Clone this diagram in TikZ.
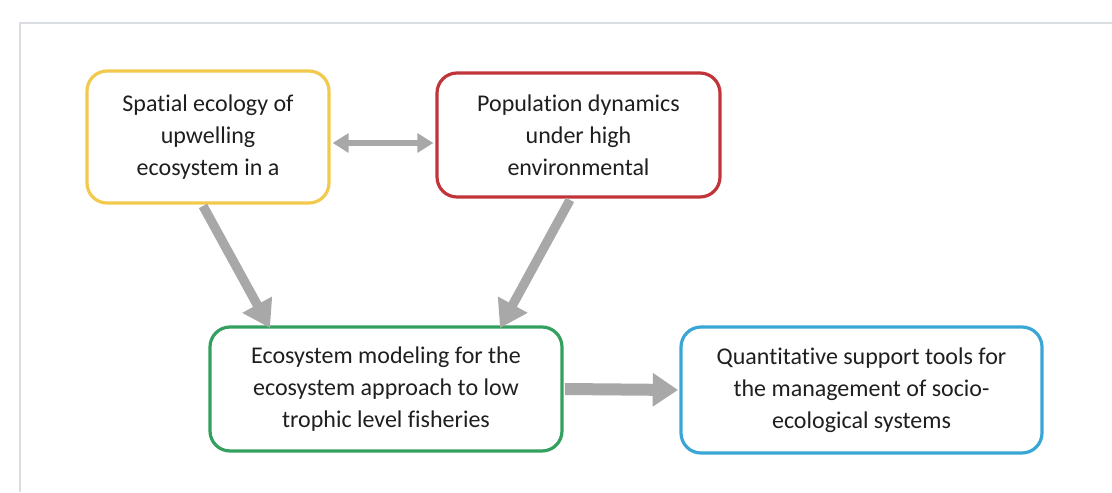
\documentclass[tikz,border=0pt]{standalone}
\usepackage{fontspec}
\setmainfont{Carlito}[Ligatures=NoCommon]
\usetikzlibrary{arrows.meta}
\definecolor{boxyellow}{HTML}{F2C94C}
\definecolor{boxred}{HTML}{C0343A}
\definecolor{boxgreen}{HTML}{33A060}
\definecolor{boxblue}{HTML}{3AA6D6}
\definecolor{linkgray}{HTML}{A8A8A8}
\definecolor{framegray}{HTML}{DADEE3}
\tikzset{
  topic/.style={draw, line width=2.4pt, rounded corners=15pt, fill=white,
    align=center, inner sep=0pt, font=\fontsize{18}{24}\selectfont,
    text=black!88},
  link/.style={draw=linkgray, line width=7pt,
    -{Triangle[length=20pt,width=24pt]}},
  thinlink/.style={draw=linkgray, line width=4pt,
    {Triangle[length=12pt,width=14pt]}-{Triangle[length=12pt,width=14pt]}},
  widelink/.style={draw=linkgray, line width=9pt,
    -{Triangle[length=19pt,width=24pt]}},
}
\begin{document}
\begin{tikzpicture}[x=0.75pt,y=-0.75pt]
  \useasboundingbox (0,0) rectangle (1112,492);
  % light frame along the top and left edges
  \draw[framegray, line width=1.6pt] (20,492) -- (20,23) -- (1112,23);

  \node[topic, draw=boxyellow, minimum width=181.5pt, minimum height=99pt]
    (spatial) at (208,137) {Spatial ecology of\\upwelling\\ecosystem in a};
  \node[topic, draw=boxred, minimum width=212.25pt, minimum height=93pt]
    (population) at (578.5,135) {Population dynamics\\under high\\environmental};
  \node[topic, draw=boxgreen, minimum width=264pt, minimum height=93pt]
    (modeling) at (386,389) {Ecosystem modeling for the\\ecosystem approach to low\\trophic level fisheries};
  \node[topic, draw=boxblue, minimum width=270.75pt, minimum height=94.5pt]
    (tools) at (861.5,390) {Quantitative support tools for\\the management of socio-\\ecological systems};

  \draw[thinlink] ([xshift=1.5pt,yshift=-4.5pt]spatial.east) -- ([xshift=-1.5pt,yshift=-6pt]population.west);
  \draw[link] ([xshift=-3.75pt,yshift=-1pt]spatial.south) -- ([xshift=-87pt,yshift=-2pt]modeling.north);
  \draw[link] ([xshift=-6.4pt,yshift=-1pt]population.south) -- ([xshift=85.5pt,yshift=-2pt]modeling.north);
  \draw[widelink] ([xshift=1pt]modeling.east) -- ([xshift=-1pt]tools.west);
\end{tikzpicture}
\end{document}
